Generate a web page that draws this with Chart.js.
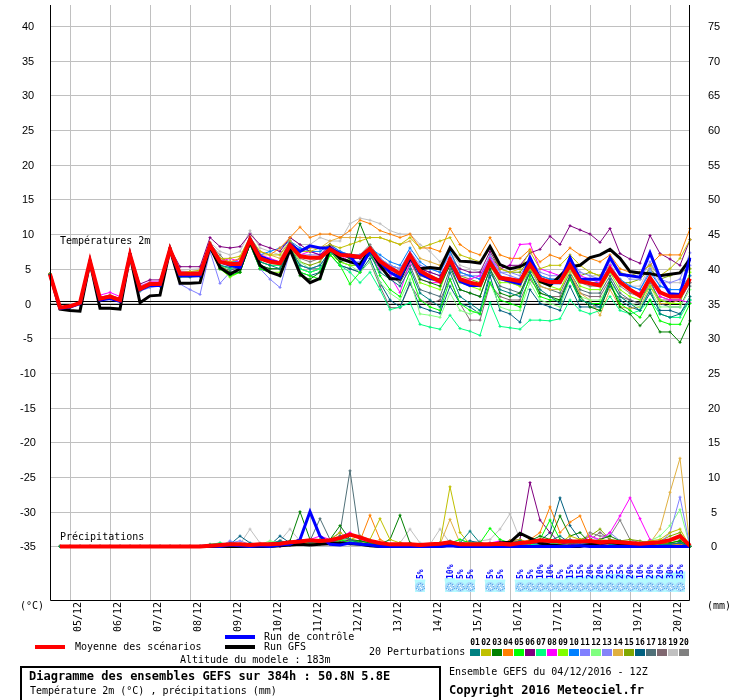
<!DOCTYPE html>
<html lang="fr">
<head>
<meta charset="utf-8">
<title>Diagramme des ensembles GEFS</title>
<script src="https://cdn.jsdelivr.net/npm/chart.js@4.4.1/dist/chart.umd.min.js"></script>
<style>
  html, body { margin: 0; padding: 0; background: #fff; overflow: hidden; }
  canvas { display: block; }
</style>
</head>
<body>
<canvas id="meteogram" width="740" height="700"></canvas>
<script>
// Echéances (heures depuis le 04/12/2016 12Z), pas de 6h
const hours = [0,6,12,18,24,30,36,42,48,54,60,66,72,78,84,90,96,102,108,114,120,126,132,138,144,150,156,162,168,174,180,186,192,198,204,210,216,222,228,234,240,246,252,258,264,270,276,282,288,294,300,306,312,318,324,330,336,342,348,354,360,366,372,378,384];

const dayTickHours = [12,36,60,84,108,132,156,180,204,228,252,276,300,324,348,372];
const dayLabels = ['05/12','06/12','07/12','08/12','09/12','10/12','11/12','12/12','13/12','14/12','15/12','16/12','17/12','18/12','19/12','20/12'];
const tempTicks = [40,35,30,25,20,15,10,5,0,-5,-10,-15,-20,-25,-30,-35];
const precipTicks = [75,70,65,60,55,50,45,40,35,30,25,20,15,10,5,0];

// Température 2m (°C)
const meanTemp = [4.2,-0.6,-0.4,0.1,6.1,0.7,1.0,0.5,7.0,2.1,2.8,2.8,7.8,4.3,4.3,
  4.3,8.4,6.0,5.7,5.7,9.2,6.5,6.0,5.8,8.4,6.8,6.6,6.6,7.8,7.0,6.9,6.7,
  7.9,6.1,5.1,4.3,7.0,4.7,3.9,3.2,6.3,3.5,3.0,2.7,5.9,3.7,3.5,3.2,
  5.6,3.5,3.1,3.1,5.5,3.2,2.9,2.6,5.0,3.1,2.0,1.1,3.7,1.6,1.0,1.0,3.6];
const ctrlTemp = [4.2,-0.7,-0.5,0.0,6.1,0.5,0.7,0.3,7.0,2.0,2.6,2.6,7.8,4.0,4.0,
  4.0,8.5,6.0,5.5,5.2,9.3,6.8,6.2,5.8,8.6,7.5,8.3,8.0,8.0,7.2,6.8,5.0,
  7.6,6.0,4.5,3.7,6.8,4.3,3.6,3.4,6.0,3.2,2.6,2.6,5.9,3.6,3.2,2.8,
  6.6,3.6,3.0,3.0,6.6,3.5,3.5,3.5,6.6,4.2,4.0,3.8,7.3,3.7,1.4,1.3,6.6];
const gfsTemp = [4.2,-0.8,-1.0,-1.1,6.0,-0.7,-0.7,-0.8,7.0,0.1,1.1,1.2,7.8,2.9,2.9,
  3.0,8.2,5.2,4.2,5.0,9.0,5.5,4.5,4.0,7.8,4.3,3.0,3.6,8.0,6.5,6.0,5.6,
  7.8,5.5,3.6,3.5,6.5,5.0,5.2,5.0,8.0,6.1,6.0,5.8,8.2,5.6,5.0,5.3,
  6.1,3.2,2.6,4.0,5.3,5.5,6.6,7.0,7.8,6.5,4.6,4.4,4.3,4.0,4.2,4.4,6.4];

const t01 = [4.2,-0.7,-0.6,0.0,6.0,0.6,0.9,0.4,7.0,2.0,2.6,2.7,7.6,4.0,4.1,
  4.2,8.2,5.5,5.2,5.5,9.0,6.0,5.5,5.0,8.0,5.5,5.0,5.5,7.5,6.5,6.0,5.5,
  7.0,4.5,3.5,2.5,5.0,1.5,0.5,-0.5,4.5,1.0,0.0,-1.0,4.5,2.0,1.5,1.0,
  4.5,2.0,1.0,0.0,4.0,0.5,0.0,-0.5,3.5,1.0,0.0,-1.0,2.0,-1.5,-2.0,-1.5,1.0];
const t02 = [4.3,-0.5,-0.4,0.1,6.2,0.8,1.1,0.6,7.1,2.4,3.0,3.0,8.0,4.5,4.6,
  4.8,8.6,6.5,6.5,6.8,9.6,7.5,7.0,7.0,9.0,7.5,7.5,8.0,8.5,8.0,8.5,9.0,
  9.5,9.5,9.0,8.5,9.5,8.0,8.5,9.0,9.5,7.0,6.5,6.0,8.0,5.0,4.5,5.0,
  7.5,5.0,5.5,5.5,7.0,5.5,4.5,4.0,6.5,4.5,4.0,4.5,5.5,4.0,5.0,6.5,9.2];
const t03 = [4.2,-0.6,-0.5,0.0,6.1,0.7,1.0,0.5,7.0,2.1,2.7,2.8,7.7,4.2,4.2,
  4.0,8.0,5.0,4.5,4.5,8.5,5.5,5.0,5.0,8.0,4.0,3.5,4.5,7.5,6.0,6.5,11.5,
  8.0,5.5,4.5,4.0,6.5,3.5,3.0,2.5,5.5,2.0,1.5,1.0,5.0,1.5,1.0,1.5,
  4.5,1.5,1.0,0.5,4.0,1.0,-0.5,-1.0,3.0,-0.5,-1.5,-3.2,-1.7,-4.1,-4.1,-5.6,-2.5];
const t04 = [4.3,-0.5,-0.4,0.1,6.2,0.8,1.2,0.7,7.1,2.3,2.9,2.9,7.9,4.4,4.5,
  4.5,8.8,6.5,6.0,6.5,9.0,7.5,7.0,8.0,9.5,11.0,9.5,10.0,10.0,9.5,10.5,12.0,
  11.5,10.5,10.0,9.5,10.0,8.0,8.0,7.5,10.8,8.5,7.5,7.0,9.5,7.0,6.5,6.5,
  7.8,6.0,7.0,6.5,8.0,7.0,6.5,6.0,7.0,5.0,4.5,4.5,5.5,7.0,7.0,7.0,10.8];
const t05 = [4.2,-0.7,-0.5,0.0,6.0,0.6,0.9,0.4,6.9,1.9,2.5,2.6,7.6,3.9,4.0,
  4.0,8.0,5.0,4.0,4.5,8.5,5.0,4.5,4.0,8.0,4.5,4.0,3.5,7.0,5.5,2.8,4.5,
  7.5,4.0,2.0,1.0,4.5,0.5,-0.5,-1.0,3.5,0.0,-1.0,-1.5,3.0,0.5,0.0,-0.5,
  4.0,1.0,0.5,0.5,3.5,0.5,0.0,0.0,3.0,0.0,-1.0,-2.0,0.5,-2.5,-3.0,-3.0,0.0];
const t06 = [4.3,-0.5,-0.3,0.2,6.2,0.9,1.2,0.7,7.2,2.8,3.4,3.4,8.0,5.3,5.3,
  5.3,9.5,8.2,8.0,8.2,10.0,8.5,8.0,7.5,9.5,8.5,7.5,7.0,8.5,7.0,6.5,6.5,
  8.0,6.0,5.0,4.5,7.0,5.0,4.5,4.0,6.5,5.0,4.5,4.5,7.5,5.0,5.5,5.5,
  7.3,7.8,9.7,8.5,11.2,10.6,10.0,8.8,10.8,7.2,6.4,5.8,9.8,7.2,6.4,5.5,9.2];
const t07 = [4.2,-0.6,-0.5,0.0,6.1,0.7,1.0,0.5,7.0,2.2,2.8,2.8,7.8,4.4,4.4,
  4.3,8.3,5.5,5.0,5.5,9.0,6.0,5.5,5.5,8.0,5.0,4.5,5.0,7.0,5.5,4.5,3.0,
  4.5,2.0,-0.9,-0.5,0.1,-3.0,-3.4,-3.7,-1.7,-3.6,-4.0,-4.6,0.1,-3.3,-3.5,-3.7,
  -2.4,-2.4,-2.5,-2.2,0.5,-1.0,-1.5,-1.0,1.0,-1.0,-1.5,-1.0,0.5,-1.5,-2.0,-2.0,0.5];
const t08 = [4.3,-0.5,-0.4,0.1,6.2,1.2,1.6,1.0,7.1,2.5,3.1,3.1,7.9,4.6,4.6,
  4.5,8.6,6.0,6.5,6.0,9.0,7.0,6.5,6.0,8.5,7.0,7.5,7.0,8.0,7.0,6.0,5.5,
  7.5,5.0,4.0,1.6,6.0,3.5,3.0,3.0,6.5,3.5,3.5,4.0,6.5,5.0,5.5,8.5,
  8.6,5.0,4.5,4.0,6.0,4.0,3.5,3.0,5.5,3.0,2.0,1.5,3.5,1.0,0.5,0.5,0.1];
const t09 = [4.2,-0.6,-0.5,0.0,6.1,0.7,1.0,0.5,7.0,2.2,2.8,2.8,7.8,4.2,4.2,
  4.2,8.3,5.0,3.8,4.5,9.0,5.5,4.5,4.5,8.0,5.0,4.5,5.0,7.0,6.0,5.5,5.5,
  7.5,5.5,4.5,3.5,6.5,3.0,2.5,2.0,6.0,3.0,2.5,2.0,5.5,3.0,3.0,2.5,
  5.0,3.0,2.5,2.0,5.0,2.5,2.0,2.0,4.5,2.0,1.0,0.5,2.5,0.5,0.0,0.0,4.5];
const t10 = [4.2,-0.6,-0.5,0.0,6.1,0.7,1.0,0.5,7.0,2.2,2.8,2.8,7.8,4.3,4.3,
  4.3,8.4,6.5,6.0,6.0,9.2,7.0,7.5,8.0,9.0,8.0,7.5,7.5,8.5,7.5,7.0,6.5,
  8.0,7.0,6.0,5.5,8.0,6.0,5.0,4.5,7.5,4.5,4.0,3.5,6.5,4.0,3.5,3.5,
  6.0,4.0,3.5,3.5,5.5,3.5,3.0,3.0,5.0,3.5,2.5,2.0,4.5,2.5,2.0,2.0,4.0];
const t11 = [4.2,-0.6,-0.5,0.0,6.0,0.6,0.9,0.3,6.9,1.8,2.3,2.5,7.5,2.8,2.0,
  1.3,7.5,2.9,4.5,5.0,8.5,5.0,3.5,2.3,7.5,5.5,5.0,5.5,7.5,6.5,6.0,6.0,
  7.5,6.0,5.5,5.0,7.0,5.0,4.5,4.0,6.5,4.0,4.0,3.5,6.5,4.5,4.0,3.5,
  6.0,4.0,3.5,3.5,6.0,3.5,3.0,3.0,5.5,3.5,2.5,2.0,5.0,2.5,2.0,2.0,5.5];
const t12 = [4.2,-0.6,-0.4,0.1,6.1,0.8,1.1,0.6,7.0,2.3,2.9,2.9,7.8,4.5,4.6,
  4.6,8.5,6.0,5.5,6.0,9.3,6.5,6.0,6.0,8.5,6.0,5.0,5.5,7.5,6.0,5.5,4.5,
  6.0,3.0,1.5,0.5,3.5,-1.5,-1.7,-2.0,1.5,-1.0,-1.5,-1.0,3.0,-0.5,-1.0,-1.0,
  3.0,0.5,0.0,-0.5,3.5,1.0,0.5,0.5,3.0,1.0,0.0,-0.5,2.0,-0.5,-0.5,-0.5,2.0];
const t13 = [4.2,-0.5,-0.4,0.1,6.1,0.8,1.1,0.6,7.0,2.3,2.9,2.9,7.8,4.3,4.4,
  4.4,8.4,6.2,5.8,6.0,9.2,6.5,6.0,6.0,8.5,7.0,7.0,7.0,8.0,7.5,7.0,7.0,
  8.0,6.5,5.5,5.0,7.5,5.5,5.0,4.5,7.0,4.5,4.0,4.0,7.0,4.5,4.5,4.0,
  6.5,4.5,4.0,4.0,6.5,4.5,4.0,3.5,6.5,4.5,3.5,3.5,6.0,3.5,3.0,3.5,7.3];
const t14 = [4.2,-0.6,-0.5,0.0,6.1,0.7,1.0,0.5,7.0,2.2,2.8,2.8,7.8,4.3,4.3,
  4.3,8.4,6.0,6.0,6.0,9.2,7.0,7.0,6.5,9.0,7.5,8.0,8.0,9.0,9.5,9.5,9.5,
  9.5,9.5,9.0,8.5,9.0,6.5,6.0,5.5,7.5,4.5,4.0,3.5,6.0,3.5,3.0,2.5,
  5.0,2.5,2.0,2.0,4.5,1.5,0.5,-1.7,2.0,-0.5,-0.7,-0.5,2.5,0.0,0.0,0.5,4.0];
const t15 = [4.2,-0.6,-0.5,0.0,6.1,0.7,1.0,0.5,7.0,2.1,2.7,2.7,7.7,4.1,4.1,
  4.1,8.2,5.5,4.5,5.0,8.8,6.0,5.5,5.5,8.0,6.0,5.5,6.0,8.0,7.0,6.5,6.5,
  7.5,6.0,5.5,5.0,7.0,4.5,4.0,3.5,6.5,4.0,3.5,3.0,7.0,5.0,4.5,4.5,
  6.5,4.0,3.5,3.5,6.0,4.0,4.5,4.0,5.5,3.0,3.0,3.5,5.0,3.5,4.0,4.5,5.0];
const t16 = [4.2,-0.7,-0.6,-0.1,6.0,0.5,0.8,0.3,6.9,1.8,2.4,2.5,7.6,3.8,3.8,
  3.9,8.0,5.0,4.0,4.5,8.5,5.0,4.5,4.0,7.5,4.5,4.0,4.5,7.0,5.5,5.0,4.5,
  6.5,3.0,0.5,-0.5,3.0,-0.5,-1.0,-1.4,2.5,0.0,-0.5,-1.5,4.0,-1.0,-1.5,-2.7,
  2.0,0.0,-0.5,-1.0,2.5,-0.5,-0.5,-0.5,2.5,0.5,-0.5,-1.0,1.5,-1.0,-1.0,-1.5,0.5];
const t17 = [4.2,-0.6,-0.5,0.0,6.1,0.7,1.0,0.5,7.0,2.0,2.6,2.6,7.7,4.0,4.0,
  4.0,8.2,5.2,4.8,5.2,8.8,5.5,5.0,5.0,8.0,5.5,5.0,5.0,7.5,6.0,5.5,5.5,
  7.0,5.0,4.0,3.0,5.5,2.0,1.5,1.0,5.0,2.0,1.5,1.0,5.0,2.5,2.0,1.5,
  5.0,2.5,2.0,1.5,4.5,2.0,1.5,1.5,4.0,1.5,0.5,0.0,3.5,0.0,-0.5,-0.5,2.5];
const t18 = [4.2,-0.6,-0.5,0.0,6.1,0.7,1.0,0.5,7.0,2.1,2.7,2.7,7.7,4.1,4.2,
  4.2,8.2,5.5,5.0,5.0,8.7,5.0,4.5,4.0,7.5,5.0,4.5,5.0,7.0,5.5,5.0,4.5,
  6.0,2.5,-0.6,-0.6,2.8,0.5,0.0,0.5,3.5,0.0,-2.4,-2.4,2.8,1.0,0.5,0.5,
  3.5,1.5,1.0,1.0,4.0,1.5,1.0,1.0,3.5,1.0,0.5,0.0,3.0,0.5,0.5,0.5,3.0];
const t19 = [4.3,-0.5,-0.4,0.1,6.2,0.8,1.1,0.6,7.1,2.5,3.1,3.1,8.0,4.8,4.9,
  5.0,8.8,7.5,7.0,7.5,10.5,8.0,7.5,7.0,9.5,8.5,8.5,9.5,9.0,9.0,11.5,12.3,
  12.0,11.5,10.5,10.0,10.0,8.5,7.5,6.0,7.5,5.5,5.0,4.5,6.5,4.0,3.5,3.5,
  6.0,3.5,3.0,3.0,6.5,4.5,4.0,4.0,6.0,3.0,2.5,2.5,5.5,3.0,3.0,3.0,5.0];
const t20 = [4.2,-0.6,-0.5,0.0,6.1,0.7,1.0,0.5,7.1,2.2,2.8,2.8,8.0,4.4,4.4,
  4.4,8.6,7.0,5.5,6.5,9.4,6.5,6.0,6.0,8.5,6.5,6.0,6.5,8.5,7.5,7.0,7.0,
  8.5,6.5,5.5,4.5,7.0,4.0,3.5,3.0,6.0,3.5,3.0,2.5,6.0,3.5,3.0,3.0,
  5.5,3.5,3.0,3.0,5.5,3.0,2.5,2.5,5.0,2.5,1.5,1.0,4.0,1.0,0.5,0.5,3.0];

// Précipitations (mm par 6h)
const meanPrecip = [null,0,0,0,0,0,0,0,0,0,0,0,0,0,0,0,
  0.1,0.2,0.3,0.3,0.2,0.3,0.3,0.4,0.6,0.7,0.9,0.8,0.9,1.2,1.7,1.3,
  0.8,0.5,0.3,0.3,0.3,0.2,0.3,0.4,0.6,0.3,0.3,0.3,0.3,0.4,0.3,0.5,
  0.6,0.9,0.8,0.7,0.7,0.7,0.8,0.6,0.7,0.6,0.5,0.4,0.5,0.6,0.9,1.5,0.1];
const ctrlPrecip = [null,0,0,0,0,0,0,0,0,0,0,0,0,0,0,0,
  0.1,0,0.2,0.1,0,0.1,0,0.2,0.3,1.0,5.0,1.5,0.3,0.2,0.5,0.3,
  0.2,0,0,0,0,0,0,0,0.1,0,0,0,0,0,0,0,
  0,0,0,0,0,0.1,0,0,0,0,0,0,0,0,0,0,0];
const gfsPrecip = [null,0,0,0,0,0,0,0,0,0,0,0,0,0,0,0,
  0,0,0,0,0,0,0,0.1,0.2,0.3,0.2,0.3,0.4,0.5,0.4,0.3,
  0.1,0,0,0,0,0,0,0,0.2,0,0,0,0.3,0.5,0.6,1.9,
  1.2,0.5,0.2,0.1,0,0,0.3,0.5,0.6,0.4,0.3,0.2,0,0,0,0,0];

const p01 = [null,0,0,0,0,0,0,0,0,0,0,0,0,0,0,0,
  0,0,0.5,0.3,0,0.2,0.3,0.8,0.5,1.0,0.5,0.8,0.5,1.5,1.0,0.5,
  0.3,0,0,0.3,0,0,0,0.5,0.8,0.5,2.2,0.5,0.3,0.2,0.5,0.8,
  0.5,0.3,0.8,1.5,0.5,0.3,0.5,0.8,0.3,0.2,0.3,0,0,0.2,0.3,0.5,0];
const p02 = [null,0,0,0,0,0,0,0,0,0,0,0,0,0,0,0,
  0,0,0,0,0,0,0.2,0.3,0.5,0.8,0.3,0.5,1.0,2.0,1.0,1.5,
  1.0,4.0,1.0,0.5,0.3,0,0.2,0.5,8.6,2.0,0.3,0.5,0.3,0.2,0.8,1.0,
  0.5,0.8,1.0,0.5,1.5,1.0,0.5,1.0,0.8,0.5,0.3,0.5,0.8,1.0,2.0,2.5,0];
const p03 = [null,0,0,0,0,0,0,0,0,0,0,0,0,0,0,0,
  0,0,0.3,0.2,0,0,0.3,0.5,0.8,5.0,1.0,0.5,1.0,3.0,1.0,0.8,
  0.5,0.3,1.0,4.5,0.5,0.2,0,0,0.3,0,0,0.2,0.3,0.5,0.3,0.5,
  0.8,1.5,1.0,4.4,1.5,2.0,0.5,1.0,1.5,0.8,0.5,0.3,0.2,0.5,0.5,0.8,0];
const p04 = [null,0,0,0,0,0,0,0,0,0,0,0,0,0,0,0,
  0,0,0,0,0,0,0,0.3,0.5,0.3,0.5,0.8,1.0,1.5,1.0,0.8,
  4.5,1.0,0.3,0.5,0,0,0,0,0.5,0.3,0,0,0.2,0.3,0.8,0.5,
  1.0,2.0,5.7,2.0,3.5,4.4,1.0,0.5,0.3,0.2,0.5,0.3,0.2,0.5,0.3,0.3,0];
const p05 = [null,0,0,0,0,0,0,0,0,0,0,0,0,0,0,0,
  0,0,0,0,0,0.3,0.2,0.3,0.5,0.8,0.5,0.3,0.8,1.0,0.5,0.8,
  0.5,0.3,0.2,0.5,0.3,0,0,0.2,0.5,1.0,0.5,0.5,2.6,1.0,0.5,0.3,
  0.5,1.0,3.8,1.0,0.5,0.8,0.3,0.5,0.8,0.5,0.2,0.3,0.5,0.3,0.5,0.8,0];
const p06 = [null,0,0,0,0,0,0,0,0,0,0,0,0,0,0,0,
  0.2,0.3,0,0,0,0,0,0.3,0.2,0.3,0.5,0.5,0.8,0.5,1.0,0.5,
  0.3,0.2,0,0,0,0,0,0,0.3,0,0,0,0.3,0.5,0.8,1.0,
  9.2,3.8,2.0,0.5,0.3,0.2,0.5,0.3,0.2,0.3,0.2,0,0,0.2,0.3,0.5,0];
const p07 = [null,0,0,0,0,0,0,0,0,0,0,0,0,0,0,0,
  0.3,0.5,0.3,0,0,0.2,0.3,0.3,0.5,0.5,0.3,0.8,0.5,1.0,0.8,0.5,
  0.3,0.2,0,0,0,0,0,0,0.2,0,0,0,0,0.2,0,0,
  0.3,0.2,0.3,0.5,0.3,0.2,0.2,0.3,0.5,0.3,0.2,0,0,0.2,0.3,0.5,0];
const p08 = [null,0,0,0,0,0,0,0,0,0,0,0,0,0,0,0,
  0,0,0,0,0,0,0,0,0.3,0.8,1.0,1.5,1.0,1.5,2.0,1.0,
  0.5,0.3,0,0,0,0,0,0,0.5,0.3,0,0.2,0.5,0.8,0.5,0.3,
  0.5,0.3,0.5,1.0,0.8,0.5,1.5,1.0,2.0,4.4,7.0,4.0,1.0,0.3,0.3,0.5,0];
const p09 = [null,0,0,0,0,0,0,0,0,0,0,0,0,0,0,0,
  0,0.2,0,0.3,0.2,0,0,0.3,0.5,0.3,0.8,1.0,0.5,0.8,1.0,0.5,
  0.3,0.5,0.3,0.2,0,0,0.3,0,0.5,0.3,0.2,0,0.2,0.3,0.5,0.3,
  0.5,0.8,0.5,0.3,0.5,1.0,0.5,0.3,0.8,0.5,0.3,0.2,0.5,0.3,0.5,0.8,0];
const p10 = [null,0,0,0,0,0,0,0,0,0,0,0,0,0,0,0,
  0,0,0.2,0,0,0,0,0.2,0.5,0.8,0.5,1.0,0.8,1.0,1.5,1.5,
  0.5,0.3,0.2,0,0,0,0,0,0.3,0.2,0,0,0.2,0.5,0.3,0.2,
  0.3,0.5,0.3,0.5,0.8,0.3,0.5,0.2,0.3,0.2,0.3,0.5,0.8,0.5,0.3,0.5,0];
const p11 = [null,0,0,0,0,0,0,0,0,0,0,0,0,0,0,0,
  0,0,0.8,0.3,0,0,0,0.3,0.2,0.5,0.3,0.5,0.5,0.8,1.0,0.5,
  0.3,0.2,0,0,0,0,0,0.2,0.3,0,0,0,0.2,0.3,0.2,0.5,
  0.3,0.5,0.3,0.2,0.5,0.3,0.5,0.2,0.3,0.2,0.3,0.5,0.3,0.5,2.0,7.1,0];
const p12 = [null,0,0,0,0,0,0,0,0,0,0,0,0,0,0,0,
  0.3,0.5,0.2,0,0,0.3,0.8,0.5,0.3,0.5,0.8,0.5,0.8,1.0,0.5,0.3,
  0.3,0.2,0,0,0,0,0,0,0.3,0.2,0,0,0.2,0.3,0.5,0.3,
  0.5,0.8,0.5,0.3,0.5,0.3,0.8,0.5,0.3,0.2,0.3,0.5,0.8,1.5,3.0,5.3,0];
const p13 = [null,0,0,0,0,0,0,0,0,0,0,0,0,0,0,0,
  0,0,0.5,0.8,0.3,0,0,0,0.3,0.5,0.3,0.8,0.5,0.8,0.5,0.3,
  0.2,0,0,0,0,0,0,0,0.3,0.2,0,0,0.3,0.5,0.8,0.5,
  0.3,0.5,0.3,0.5,0.8,0.5,1.5,0.8,2.0,0.8,0.5,0.3,0.5,0.8,1.0,1.5,0];
const p14 = [null,0,0,0,0,0,0,0,0,0,0,0,0,0,0,0,
  0,0,0,0,0,0,0,0,0.2,0.3,0.5,0.8,0.5,1.0,0.8,0.5,
  0.3,0.5,0.2,0,0,0,0,0.3,3.9,0.5,0.2,0,0,0.2,0.3,0.2,
  0.3,0.5,0.3,0.2,0.5,0.3,0.2,0.5,0.3,0.2,0.3,0.5,0.5,2.5,7.8,12.7,0];
const p15 = [null,0,0,0,0,0,0,0,0,0,0,0,0,0,0,0,
  0,0,0,0.2,0,0,0.3,0.5,0.3,0.5,0.8,1.0,0.5,1.5,1.0,0.5,
  0.5,0.3,0.2,0.3,0,0,0,0,0.5,0.3,0.2,0.3,0.5,0.3,0.5,0.8,
  0.5,0.8,0.5,0.3,0.5,1.0,1.5,2.5,1.0,0.8,1.0,0.8,0.5,0.8,1.5,2.0,0];
const p16 = [null,0,0,0,0,0,0,0,0,0,0,0,0,0,0,0,
  0,0,0.3,1.5,0.5,0.3,0.2,1.5,0.5,0.3,0.8,0.5,0.8,0.5,1.0,0.5,
  0.3,0.2,0,0,0,0,0,0,0.3,0.5,0.8,0.5,0.3,0.2,0.5,0.8,
  0.5,0.8,2.0,7.0,3.0,1.0,0.5,0.3,0.2,0.5,0.3,0.2,0,0.2,0.3,0.5,0];
const p17 = [null,0,0,0,0,0,0,0,0,0,0,0,0,0,0,0,
  0,0,0,0,0.3,0.2,0.5,0.8,0.5,1.0,0.8,4.0,1.0,2.0,10.9,0.8,
  0.5,0.3,0.2,0,0,0,0,0,0.3,0.2,0,0.5,0.3,0.5,0.8,0.5,
  0.8,0.5,0.3,0.8,1.0,0.5,0.8,0.5,0.3,0.2,0.5,0.3,0.2,0.3,0.5,0.3,0];
const p18 = [null,0,0,0,0,0,0,0,0,0,0,0,0,0,0,0,
  0,0,0,0,0,0,0,0.2,0.3,0.5,0.3,0.5,0.8,0.5,0.8,0.5,
  0.3,0.2,0,0,0,0,0,0,0.2,0,0,0,0.2,0.3,0.5,0.3,
  0.5,0.8,0.5,0.3,0.5,0.8,1.0,2.0,1.0,0.5,0.3,0.2,0.3,0.5,0.3,0.5,0];
const p19 = [null,0,0,0,0,0,0,0,0,0,0,0,0,0,0,0,
  0.3,0.2,0,0.3,2.5,0.5,0.3,0.8,2.5,0.8,0.5,0.8,0.5,1.0,0.8,0.5,
  0.3,0.2,0.3,0.5,2.5,0.5,0.3,2.5,0.5,0.3,0.5,0.8,1.0,2.5,4.7,1.0,
  0.3,0.2,0.3,0.5,0.3,0.8,0.5,0.3,0.2,0.5,0.3,0.5,0.8,0.5,0.8,1.0,0];
const p20 = [null,0,0,0,0,0,0,0,0,0,0,0,0,0,0,0,
  0,0,0,0,0,0,0,0.3,0.5,0.3,0.8,0.5,1.0,0.8,0.5,0.3,
  0.3,0.2,0,0,0,0,0.2,0,0.3,0.2,0,0,0.3,0.5,0.3,0.5,
  0.5,0.3,0.5,0.8,1.0,0.5,2.0,1.5,1.5,3.8,1.0,0.5,0.3,0.5,0.3,0.5,0];

// Probabilité de neige (%)
const snowPct = [null,null,null,null,null,null,null,null,null,null,null,null,null,null,null,null,
  null,null,null,null,null,null,null,null,null,null,null,null,null,null,null,null,
  null,null,null,null,null,5,null,null,10,5,5,null,5,5,null,5,
  5,10,10,5,15,15,20,20,25,25,20,10,20,20,30,35,null];

const pertNames = ['01','02','03','04','05','06','07','08','09','10','11','12','13','14','15','16','17','18','19','20'];
const pertColors = ['#008080','#c0c000','#008000','#ff8000','#00ff00','#800080','#00ff80','#ff00ff','#80ff00','#0080ff',
  '#8080ff','#80ff80','#8484f8','#e0b040','#80a800','#006080','#507078','#806870','#c0c0c0','#808080'];
const pertTemp = [t01,t02,t03,t04,t05,t06,t07,t08,t09,t10,t11,t12,t13,t14,t15,t16,t17,t18,t19,t20];
const pertPrecip = [p01,p02,p03,p04,p05,p06,p07,p08,p09,p10,p11,p12,p13,p14,p15,p16,p17,p18,p19,p20];

// garde-fou : toutes les séries doivent avoir une valeur par échéance
[meanTemp, ctrlTemp, gfsTemp, meanPrecip, ctrlPrecip, gfsPrecip, snowPct, ...pertTemp, ...pertPrecip].forEach((s, k) => {
  if (s.length !== hours.length) throw new Error('serie ' + k + ' : ' + s.length + ' valeurs');
});

const MONO = '"DejaVu Sans Mono", "Liberation Mono", monospace';
const SNOW_BG = '#b4faff';

const memberLine = (serie, color, axis) => ({
  type: 'line', data: serie, yAxisID: axis, order: 50,
  borderColor: color, borderWidth: 1, tension: 0, fill: false,
  pointStyle: 'cross', pointRadius: 1.5, pointBorderColor: color, pointBorderWidth: 1
});
const runLine = (serie, color, width, axis, order) => ({
  type: 'line', data: serie, yAxisID: axis, order: order,
  borderColor: color, borderWidth: width, tension: 0, fill: false, pointRadius: 0
});

const datasets = [{
  type: 'bar', data: snowPct, yAxisID: 'ySnow', order: 100,
  backgroundColor: SNOW_BG, barPercentage: 1, categoryPercentage: 1
}];
pertPrecip.forEach((s, k) => datasets.push(memberLine(s, pertColors[k], 'yP')));
pertTemp.forEach((s, k) => datasets.push(memberLine(s, pertColors[k], 'yT')));
datasets.push(runLine(gfsPrecip, '#000000', 3, 'yP', 4));
datasets.push(runLine(gfsTemp, '#000000', 3, 'yT', 4));
datasets.push(runLine(ctrlPrecip, '#0000ff', 3, 'yP', 3));
datasets.push(runLine(ctrlTemp, '#0000ff', 3, 'yT', 3));
datasets.push(runLine(meanPrecip, '#ff0000', 4, 'yP', 1));
datasets.push(runLine(meanTemp, '#ff0000', 4, 'yT', 1));

const crisp = v => Math.round(v) + 0.5;

const drawSnowflake = (ctx, x, y) => {
  ctx.save();
  ctx.fillStyle = SNOW_BG;
  ctx.fillRect(x - 5, y - 7, 10, 12);
  ctx.fillStyle = '#a8d8f8';
  ctx.beginPath(); ctx.arc(x, y, 5, 0, Math.PI * 2); ctx.fill();
  ctx.fillStyle = '#5aa8f0';
  [[-3,-1],[3,-1],[0,-4],[0,3],[-2,2],[2,2],[-2,-3],[2,-3],[-4,1],[4,1]].forEach(([dx, dy]) => ctx.fillRect(x + dx, y + dy, 1, 1));
  ctx.fillStyle = '#ffffff';
  [[0,0],[-1,-2],[1,1],[-3,2],[3,-2]].forEach(([dx, dy]) => ctx.fillRect(x + dx, y + dy, 1, 1));
  ctx.restore();
};

const decor = {
  id: 'meteogramDecor',
  beforeDraw(chart) {
    const ctx = chart.ctx;
    ctx.save();
    ctx.fillStyle = '#ffffff';
    ctx.fillRect(0, 0, chart.width, chart.height);
    ctx.restore();
  },
  beforeDatasetsDraw(chart) {
    const { ctx, chartArea: a, scales } = chart;
    ctx.save();
    ctx.strokeStyle = '#c0c0c0';
    ctx.lineWidth = 1;
    ctx.beginPath();
    dayTickHours.forEach(h => {
      const x = crisp(scales.x.getPixelForValue(hours.indexOf(h)));
      ctx.moveTo(x, a.top); ctx.lineTo(x, a.bottom);
    });
    tempTicks.forEach(v => {
      const y = crisp(scales.yT.getPixelForValue(v));
      ctx.moveTo(a.left, y); ctx.lineTo(a.right, y);
    });
    ctx.stroke();
    // double trait du 0°C
    const y0 = Math.round(scales.yT.getPixelForValue(0));
    ctx.strokeStyle = '#000000';
    ctx.beginPath();
    ctx.moveTo(a.left, y0 - 1.5); ctx.lineTo(a.right, y0 - 1.5);
    ctx.moveTo(a.left, y0 + 1.5); ctx.lineTo(a.right, y0 + 1.5);
    ctx.stroke();
    ctx.restore();
  },
  afterDatasetsDraw(chart) {
    const { ctx, chartArea: a, scales } = chart;
    ctx.save();

    // cadre
    ctx.strokeStyle = '#000000';
    ctx.lineWidth = 1;
    ctx.beginPath();
    ctx.moveTo(crisp(a.left), a.top); ctx.lineTo(crisp(a.left), crisp(a.bottom));
    ctx.lineTo(crisp(a.right - 1), crisp(a.bottom)); ctx.lineTo(crisp(a.right - 1), a.top);
    ctx.stroke();

    // graduations
    ctx.fillStyle = '#000000';
    ctx.font = '11px "Liberation Sans", Arial, sans-serif';
    ctx.textAlign = 'center';
    ctx.textBaseline = 'middle';
    tempTicks.forEach(v => ctx.fillText(String(v), 28, scales.yT.getPixelForValue(v) + 1));
    precipTicks.forEach(v => ctx.fillText(String(v), 714, scales.yP.getPixelForValue(v) + 1));

    ctx.font = '10px ' + MONO;
    ctx.textAlign = 'left';
    ctx.fillText('(°C)', 20, 606);
    ctx.fillText('(mm)', 707, 606);
    ctx.fillText('Températures 2m', 60, 241);
    ctx.fillText('Précipitations', 60, 537);

    dayTickHours.forEach((h, k) => {
      const x = scales.x.getPixelForValue(hours.indexOf(h));
      ctx.save();
      ctx.translate(x + 8, 602);
      ctx.rotate(-Math.PI / 2);
      ctx.textAlign = 'right';
      ctx.fillText(dayLabels[k], 0, 0);
      ctx.restore();
    });

    // neige
    snowPct.forEach((p, i) => {
      if (p === null) return;
      const x = scales.x.getPixelForValue(i);
      drawSnowflake(ctx, x, 587);
    });
    snowPct.forEach((p, i) => {
      if (p === null) return;
      const x = scales.x.getPixelForValue(i);
      ctx.save();
      ctx.translate(x + 1, 579);
      ctx.rotate(-Math.PI / 2);
      ctx.fillStyle = '#0000ff';
      ctx.font = 'bold 8px ' + MONO;
      ctx.textAlign = 'left';
      ctx.fillText(p + '%', 0, 0);
      ctx.restore();
    });

    // légende
    ctx.fillStyle = '#ff0000'; ctx.fillRect(35, 645, 30, 4);
    ctx.fillStyle = '#0000ff'; ctx.fillRect(225, 635, 30, 4);
    ctx.fillStyle = '#000000'; ctx.fillRect(225, 645, 30, 4);
    ctx.font = '10px ' + MONO;
    ctx.fillText('Moyenne des scénarios', 75, 647);
    ctx.fillText('Run de contrôle', 264, 637);
    ctx.fillText('Run GFS', 264, 647);
    ctx.fillText('Altitude du modele : 183m', 180, 660);
    ctx.fillText('20 Perturbations', 369, 652);

    pertColors.forEach((c, k) => {
      const x = 470 + k * 11;
      ctx.fillStyle = c;
      ctx.fillRect(x, 649, 10, 7);
      ctx.fillStyle = '#000000';
      ctx.font = 'bold 8px ' + MONO;
      ctx.textAlign = 'center';
      ctx.fillText(pertNames[k], x + 5, 643);
    });

    // cartouche
    ctx.textAlign = 'left';
    ctx.strokeStyle = '#000000';
    ctx.lineWidth = 2;
    ctx.strokeRect(21, 667, 419, 34);
    ctx.fillStyle = '#000000';
    ctx.font = 'bold 12px ' + MONO;
    ctx.fillText('Diagramme des ensembles GEFS sur 384h : 50.8N 5.8E', 29, 677);
    ctx.font = '10px ' + MONO;
    ctx.fillText('Température 2m (°C) , précipitations (mm)', 30, 691);
    ctx.fillText('Ensemble GEFS du 04/12/2016 - 12Z', 449, 672);
    ctx.font = 'bold 12px ' + MONO;
    ctx.fillText('Copyright 2016 Meteociel.fr', 449, 691);

    ctx.restore();
  }
};

new Chart(document.getElementById('meteogram'), {
  type: 'line',
  data: { labels: hours, datasets: datasets },
  options: {
    responsive: false,
    animation: false,
    events: [],
    layout: { padding: { left: 50, right: 50, top: 0, bottom: 100 } },
    plugins: { legend: { display: false }, tooltip: { enabled: false } },
    scales: {
      x: { type: 'category', offset: false, display: false },
      yT: { type: 'linear', min: -42.714, max: 43, display: false },
      yP: { type: 'linear', min: -7.714, max: 78, display: false },
      ySnow: { type: 'linear', min: -70.4, max: 2151.9, display: false }
    }
  },
  plugins: [decor]
});
</script>
</body>
</html>
